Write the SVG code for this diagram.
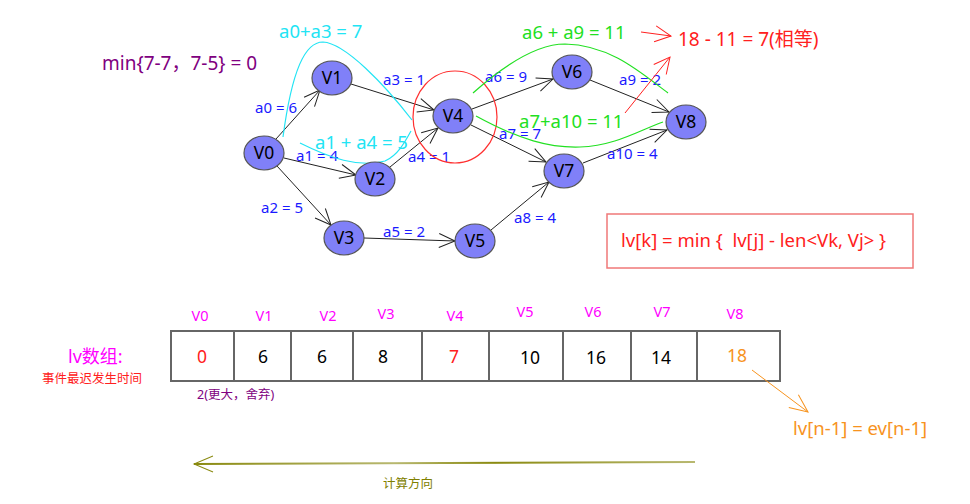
<svg xmlns="http://www.w3.org/2000/svg" width="970" height="504" viewBox="0 0 970 504">
<defs>
<style>
text{font-family:"Noto Sans","Noto Sans CJK SC",sans-serif}
.node ellipse{fill:#8080f8;stroke:#555;stroke-width:1.2}
.node text{font-size:17.5px;fill:#000;text-anchor:middle}
.edge{stroke:#222;stroke-width:1;fill:none;marker-end:url(#ah)}
.el{font-size:15px;fill:#1a1aff}
.cy{fill:none;stroke:#22e4f4;stroke-width:1.2}
.gr{fill:none;stroke:#22e022;stroke-width:1.2}
.cell{fill:#fff;stroke:#666;stroke-width:2}
.val{font-size:17.5px;fill:#000;text-anchor:middle}
.hd{font-size:14.5px;fill:#ff00ff;text-anchor:middle}
</style>
<marker id="ah" markerUnits="userSpaceOnUse" markerWidth="20" markerHeight="20" viewBox="-18 -10 20 20" refX="0" refY="0" orient="auto">
<path d="M-16,-7 L0,0 L-16,7" fill="none" stroke="#222" stroke-width="1"/>
</marker>
<marker id="ahr" markerUnits="userSpaceOnUse" markerWidth="20" markerHeight="20" viewBox="-18 -10 20 20" refX="0" refY="0" orient="auto">
<path d="M-16,-8 L0,0 L-16,8" fill="none" stroke="#ff2020" stroke-width="1"/>
</marker>
<marker id="aho" markerUnits="userSpaceOnUse" markerWidth="24" markerHeight="24" viewBox="-20 -12 22 24" refX="0" refY="0" orient="auto">
<path d="M-18,-8 L0,0 L-18,8" fill="none" stroke="#f7931e" stroke-width="1"/>
</marker>
<marker id="ahg" markerUnits="userSpaceOnUse" markerWidth="24" markerHeight="24" viewBox="-20 -12 22 24" refX="0" refY="0" orient="auto">
<path d="M-19,-8 L0,0 L-19,8" fill="none" stroke="#8a8a10" stroke-width="1"/>
</marker>
<linearGradient id="og" x1="0" y1="0" x2="1" y2="0">
<stop offset="0" stop-color="#8a8a10"/>
<stop offset="0.4" stop-color="#b8b870"/>
<stop offset="0.6" stop-color="#8a8a10"/>
<stop offset="1" stop-color="#b8b870"/>
</linearGradient>
</defs>
<rect width="970" height="504" fill="#fff"/>

<g id="connectors">
<line class="edge" x1="276" y1="139" x2="320" y2="90"/>
<line class="edge" x1="351" y1="84" x2="434" y2="110"/>
<line class="edge" x1="284" y1="158" x2="356" y2="175"/>
<line class="edge" x1="390" y1="167" x2="438" y2="128"/>
<line class="edge" x1="277" y1="166" x2="331" y2="225"/>
<line class="edge" x1="364" y1="238" x2="455" y2="241"/>
<line class="edge" x1="491" y1="230" x2="549" y2="182"/>
<line class="edge" x1="472" y1="109" x2="553" y2="79"/>
<line class="edge" x1="471" y1="125" x2="546" y2="162"/>
<line class="edge" x1="590" y1="80" x2="669" y2="112"/>
<line class="edge" x1="583" y1="163" x2="667" y2="130"/>
</g>

<g id="edge-labels">
<text class="el" x="255" y="113">a0 = 6</text>
<text class="el" x="383" y="85">a3 = 1</text>
<text class="el" x="296" y="161">a1 = 4</text>
<text class="el" x="408" y="162">a4 = 1</text>
<text class="el" x="261" y="213">a2 = 5</text>
<text class="el" x="383" y="237">a5 = 2</text>
<text class="el" x="514" y="223">a8 = 4</text>
<text class="el" x="485" y="82">a6 = 9</text>
<text class="el" x="619" y="85">a9 = 2</text>
<text class="el" x="499" y="139">a7 = 7</text>
<text class="el" x="607" y="159">a10 = 4</text>
</g>

<g id="annotations">
<ellipse cx="455" cy="117" rx="42" ry="46" fill="none" stroke="#ff3030" stroke-width="1.2"/>
<path class="cy" d="M283,137 C292,70 305,42 323,42 C345,43 385,85 412,120"/>
<path class="cy" d="M300,143 C330,158 358,168 385,161 C398,155 405,142 411,131"/>
<path class="gr" d="M473,93 C510,60 540,44 565,44 C610,45 640,72 668,93"/>
<path class="gr" d="M476,116 C520,140 550,148 580,147 C615,146 640,130 663,122"/>
<text x="279" y="38" font-size="18.5" fill="#22e4f4">a0+a3 = 7</text>
<text x="315" y="149" font-size="18.5" fill="#22e4f4">a1 + a4 = 5</text>
<text x="522" y="39" font-size="18.5" fill="#22e022">a6 + a9 = 11</text>
<text x="519" y="128" font-size="18.5" fill="#22e022">a7+a10 = 11</text>
<line x1="641" y1="32" x2="671" y2="36" stroke="#ff2020" stroke-width="1" marker-end="url(#ahr)"/>
<line x1="625" y1="113" x2="670" y2="57" stroke="#ff2020" stroke-width="1" marker-end="url(#ahr)"/>
<text x="678" y="46" font-size="19" fill="#ff2020">18 - 11 = 7(相等)</text>
<text x="102" y="70" font-size="19" fill="#800080">min{7-7，7-5} = 0</text>
</g>

<g id="V0" class="node"><ellipse cx="264" cy="153" rx="20" ry="17"/><text x="264" y="159">V0</text></g>
<g id="V1" class="node"><ellipse cx="332" cy="78" rx="20" ry="17"/><text x="332" y="84">V1</text></g>
<g id="V2" class="node"><ellipse cx="375" cy="179" rx="20" ry="17"/><text x="375" y="185">V2</text></g>
<g id="V3" class="node"><ellipse cx="344" cy="238" rx="20" ry="17"/><text x="344" y="244">V3</text></g>
<g id="V4" class="node"><ellipse cx="453" cy="116" rx="20" ry="17"/><text x="453" y="122">V4</text></g>
<g id="V5" class="node"><ellipse cx="475" cy="241" rx="20" ry="17"/><text x="475" y="247">V5</text></g>
<g id="V6" class="node"><ellipse cx="572" cy="72" rx="20" ry="17"/><text x="572" y="78">V6</text></g>
<g id="V7" class="node"><ellipse cx="564" cy="171" rx="20" ry="17"/><text x="564" y="177">V7</text></g>
<g id="V8" class="node"><ellipse cx="686" cy="122" rx="20" ry="17"/><text x="686" y="128">V8</text></g>

<g id="formula">
<rect x="607" y="214" width="306" height="54" fill="none" stroke="#f07878" stroke-width="1.5"/>
<text x="621" y="247" font-size="18.5" fill="#ff2020" xml:space="preserve">lv[k] = min {  lv[j] - len&lt;Vk, Vj&gt; }</text>
</g>

<g id="array">
<rect class="cell" x="171" y="331" width="63" height="50"/>
<rect class="cell" x="234" y="331" width="57" height="50"/>
<rect class="cell" x="291" y="331" width="62" height="50"/>
<rect class="cell" x="353" y="331" width="69" height="50"/>
<rect class="cell" x="422" y="331" width="67" height="50"/>
<rect class="cell" x="489" y="331" width="74" height="50"/>
<rect class="cell" x="563" y="331" width="68" height="50"/>
<rect class="cell" x="631" y="331" width="66" height="50"/>
<rect class="cell" x="697" y="331" width="83" height="50"/>
<text class="val" x="202" y="363" style="fill:#ff2020">0</text>
<text class="val" x="263" y="363">6</text>
<text class="val" x="322" y="363">6</text>
<text class="val" x="383" y="363">8</text>
<text class="val" x="454" y="363" style="fill:#ff2020">7</text>
<text class="val" x="530" y="364">10</text>
<text class="val" x="596" y="364">16</text>
<text class="val" x="661" y="364">14</text>
<text class="val" x="737" y="362" style="fill:#f7931e">18</text>
<text class="hd" x="200" y="321">V0</text>
<text class="hd" x="264" y="321">V1</text>
<text class="hd" x="328" y="321">V2</text>
<text class="hd" x="386" y="319">V3</text>
<text class="hd" x="455" y="321">V4</text>
<text class="hd" x="525" y="317">V5</text>
<text class="hd" x="593" y="317">V6</text>
<text class="hd" x="662" y="317">V7</text>
<text class="hd" x="735" y="319">V8</text>
<text x="68" y="363" font-size="18" fill="#ff00ff">lv数组:</text>
<text x="42" y="383" font-size="12.5" fill="#ff2020">事件最迟发生时间</text>
<text x="197" y="399" font-size="12.5" fill="#800080">2(更大，舍弃)</text>
<line x1="752" y1="370" x2="808" y2="412" stroke="#f7931e" stroke-width="1" marker-end="url(#aho)"/>
<text x="793" y="435" font-size="18.5" fill="#f7931e">lv[n-1] = ev[n-1]</text>
</g>

<g id="direction">
<line x1="695" y1="462" x2="194" y2="464" stroke="url(#og)" stroke-width="2" marker-end="url(#ahg)"/>
<text x="383" y="488" font-size="12.5" fill="#808000">计算方向</text>
</g>
</svg>
